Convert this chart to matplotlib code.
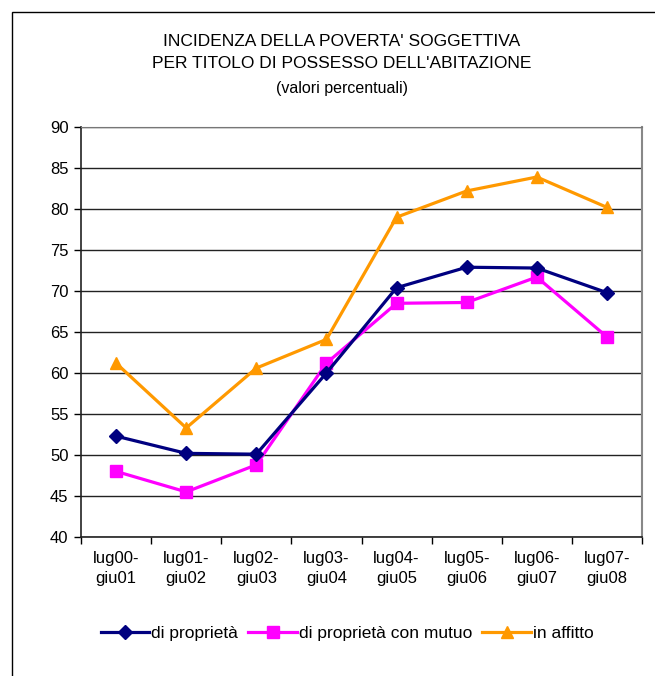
import matplotlib
matplotlib.use("Agg")
import matplotlib.pyplot as plt
from matplotlib.patches import Rectangle

# dati
periodi = ["lug00-\ngiu01", "lug01-\ngiu02", "lug02-\ngiu03", "lug03-\ngiu04",
           "lug04-\ngiu05", "lug05-\ngiu06", "lug06-\ngiu07", "lug07-\ngiu08"]
di_proprieta = [52.3, 50.2, 50.1, 60.0, 70.4, 72.9, 72.8, 69.8]
con_mutuo = [48.0, 45.5, 48.8, 61.2, 68.5, 68.6, 71.7, 64.4]
in_affitto = [61.2, 53.3, 60.6, 64.1, 79.0, 82.2, 83.9, 80.2]
y_ticks = [40, 45, 50, 55, 60, 65, 70, 75, 80, 85, 90]

plt.rcParams["font.family"] = ["Liberation Sans", "DejaVu Sans"]

fig = plt.figure(figsize=(6.55, 6.76), dpi=100)
ax = fig.add_axes([81 / 655, 1 - 537 / 676, (642 - 81) / 655, (537 - 127) / 676])

# cornice esterna
fig.patches.append(Rectangle((12 / 655, -0.05), 1.0, 1 - 12 / 676 + 0.05,
                             transform=fig.transFigure, fill=False,
                             edgecolor="black", linewidth=1.0))

x = list(range(len(periodi)))
ax.plot(x, di_proprieta, color="#000080", lw=2.3, marker="D", ms=7,
        label="di proprietà", zorder=4)
ax.plot(x, con_mutuo, color="#ff00ff", lw=2.3, marker="s", ms=8,
        label="di proprietà con mutuo", zorder=3)
ax.plot(x, in_affitto, color="#ff9900", lw=2.3, marker="^", ms=9,
        label="in affitto", zorder=2)

ax.set_ylim(40, 90)
ax.set_xlim(-0.5, len(periodi) - 0.5)
ax.set_yticks(y_ticks)
ax.tick_params(axis="y", labelsize=12, length=5, width=1, direction="out", pad=4)
ax.yaxis.grid(True, color="#222222", linewidth=1)
ax.set_axisbelow(True)

ax.set_xticks(x)
ax.set_xticklabels(periodi, fontsize=12, linespacing=1.4)
ax.set_xticks([i - 0.5 for i in range(len(periodi) + 1)], minor=True)
ax.tick_params(axis="x", which="major", length=0, pad=10)
ax.tick_params(axis="x", which="minor", length=5, width=1, direction="out")

for side in ["left", "bottom"]:
    ax.spines[side].set_color("#222222")
    ax.spines[side].set_linewidth(1.2)
ax.spines["top"].set_color("#777777")
ax.spines["right"].set_color("#888888")
ax.spines["right"].set_linewidth(1.5)

fig.text(0.522, 1 - 42 / 676, "INCIDENZA DELLA POVERTA' SOGGETTIVA",
         ha="center", va="center", fontsize=12.5)
fig.text(0.522, 1 - 64 / 676, "PER TITOLO DI POSSESSO DELL'ABITAZIONE",
         ha="center", va="center", fontsize=12.5)
fig.text(0.522, 1 - 88 / 676, "(valori percentuali)",
         ha="center", va="center", fontsize=11.5)

fig.legend(loc="center", bbox_to_anchor=(0.53, 1 - 633 / 676), ncol=3,
           frameon=False, fontsize=12.5, handlelength=2.8, handletextpad=0.1,
           columnspacing=0.6)

fig.savefig("out.png", dpi=100)
